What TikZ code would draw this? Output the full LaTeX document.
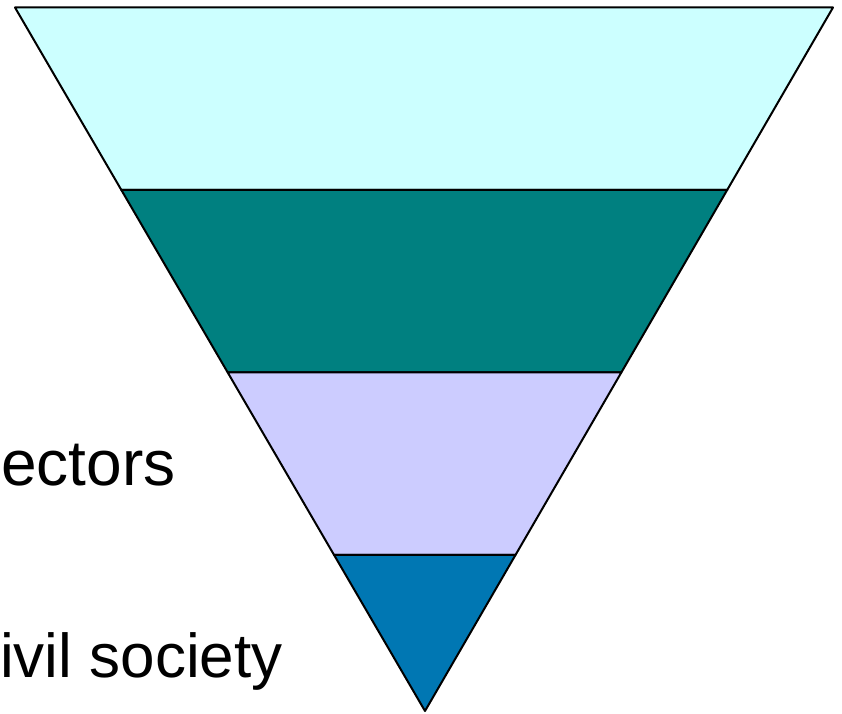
\documentclass[tikz,border=0pt]{standalone}
\usepackage{fontspec}
\setmainfont{Liberation Sans}
\usetikzlibrary{calc}
\definecolor{bandA}{RGB}{204,255,255}
\definecolor{bandB}{RGB}{0,128,128}
\definecolor{bandC}{RGB}{204,204,255}
\definecolor{bandD}{RGB}{0,119,179}
\tikzset{band/.style={draw=black,line width=2pt,line join=round}}
\begin{document}
\begin{tikzpicture}[x=1pt,y=1pt,font=\fontsize{62}{74}\selectfont]
	\useasboundingbox (0,0) rectangle (842,713);
	\def\t{0.2594}
	\coordinate (tl) at (15,705.5);
	\coordinate (tr) at (833,705.5);
	\coordinate (ap) at (425,2);
	% the three upper bands
	\foreach \i/\col in {0/bandA,1/bandB,2/bandC}{
		\filldraw[band,fill=\col] ($(tl)!{\i*\t}!(ap)$) -- ($(tr)!{\i*\t}!(ap)$) -- ($(tr)!{(\i+1)*\t}!(ap)$) -- ($(tl)!{(\i+1)*\t}!(ap)$) -- cycle;
	}
	% tip
	\filldraw[band,fill=bandD] ($(tl)!{3*\t}!(ap)$) -- ($(tr)!{3*\t}!(ap)$) -- (ap) -- cycle;
	\node[anchor=base west,inner sep=0,font=\fontsize{64}{74}\selectfont] (sect) at (1,228) {ectors};
	\node[anchor=base west,inner sep=0] (civ) at (0,36) {ivil society};
\end{tikzpicture}
\end{document}
